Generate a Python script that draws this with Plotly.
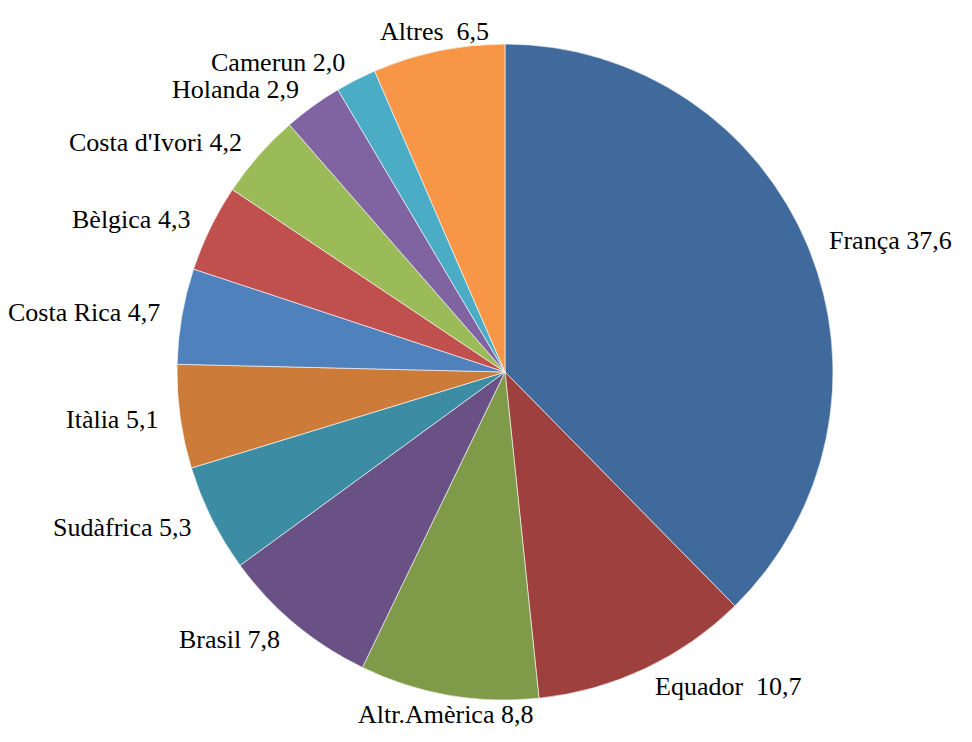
import math
import plotly.graph_objects as go

countries = ["França", "Equador ", "Altr.Amèrica", "Brasil", "Sudàfrica", "Itàlia",
             "Costa Rica", "Bèlgica", "Costa d'Ivori", "Holanda", "Camerun", "Altres "]
shares = [37.6, 10.7, 8.8, 7.8, 5.3, 5.1, 4.7, 4.3, 4.2, 2.9, 2.0, 6.5]
colors = ["#416A9C", "#9E413E", "#7F9A48", "#695185", "#3C8DA3", "#CC7B38",
          "#4F81BD", "#C0504D", "#9BBB59", "#8064A2", "#4BACC6", "#F79646"]

W, H = 972, 742
CX, CY, R = 505, 372, 328
FONT = dict(family="Times New Roman", size=26, color="#000000")

fig = go.Figure(go.Pie(
    labels=countries,
    values=shares,
    sort=False,
    direction="clockwise",
    rotation=0,
    marker=dict(colors=colors, line=dict(color="#FFFFFF", width=0.6)),
    textinfo="none",
    hoverinfo="label+value",
    domain=dict(x=[(CX - R) / W, (CX + R) / W], y=[1 - (CY + R) / H, 1 - (CY - R) / H]),
    showlegend=False,
))

total = sum(shares)
cum = 0.0
annotations = []
gap = 20
for name, v in zip(countries, shares):
    mid = (cum + v / 2) / total * 2 * math.pi
    cum += v
    dx, dy = math.sin(mid), math.cos(mid)  # dy positive = up
    px = CX + (R + gap) * dx
    py = CY - (R + gap) * dy
    xa = "left" if dx > 0.3 else ("right" if dx < -0.3 else "center")
    txt = f"{name} " + f"{v:.1f}".replace(".", ",")
    annotations.append(dict(
        x=px / W, y=1 - py / H, xref="paper", yref="paper",
        text=txt, showarrow=False, xanchor=xa, yanchor="middle", font=FONT,
    ))

fig.update_layout(
    width=W, height=H,
    margin=dict(l=0, r=0, t=0, b=0),
    paper_bgcolor="#FFFFFF",
    plot_bgcolor="#FFFFFF",
    annotations=annotations,
    font=FONT,
)

fig.write_html("out.html", config={"displayModeBar": False},
               post_script="document.body.style.margin='0';document.body.style.overflow='hidden';")
